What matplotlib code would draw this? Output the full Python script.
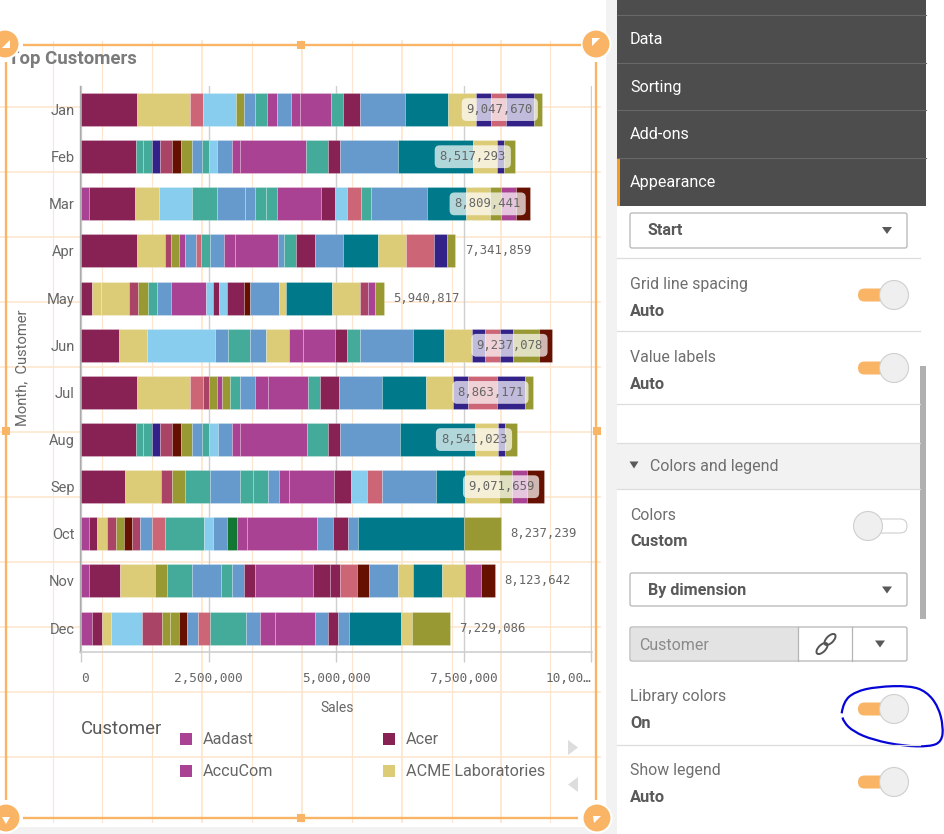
import numpy as np
import matplotlib
matplotlib.use("Agg")
import matplotlib.pyplot as plt
from matplotlib.patches import Rectangle, Circle, Ellipse, FancyBboxPatch, Polygon, PathPatch
from matplotlib.path import Path

months = ["Jan","Feb","Mar","Apr","May","Jun","Jul","Aug","Sep","Oct","Nov","Dec"]
totals = [9047670,8517293,8809441,7341859,5940817,9237078,8863171,8541023,9071659,8237239,8123642,7229086]
palette = {"A":"#aa4294","R":"#882255","Y":"#ddcc77","P":"#cc6677","L":"#88ccee","O":"#999933",
           "B":"#6699cc","T":"#44aa99","D":"#007a8a","N":"#332288","M":"#aa4466","W":"#661100","G":"#117733"}

# customer colour codes for each stacked segment, and sales in thousands
jan_c = "R Y P L O B T A B A A T R B D Y N P N O".split()
jan_v = [1104,1036,255,646,158,218,225,195,285,180,601,240,330,871,856,548,300,285,556,158]
feb_c = "R T T N M W O B T L B A A T R B D Y N O".split()
feb_v = [1074,150,165,165,225,173,218,195,143,165,278,158,1307,421,248,1134,1472,458,150,218]
mar_c = "A R Y L T B B T T A R L P T B D Y O A W".split()
mar_v = [165,901,473,631,503,548,195,203,218,864,278,240,278,195,1089,774,473,203,293,285]
apr_c = "R Y M O A B P T B A A B T R B D Y P N O".split()
apr_v = [1089,556,128,143,113,218,105,173,285,218,834,113,240,376,548,691,541,556,248,165]
may_c = "R Y Y M O T B A L R L R W B Y D Y M A O".split()
may_v = [218,165,556,180,195,165,285,676,143,120,158,330,120,556,150,901,541,165,128,180]
jun_c = "R Y L B T B Y A A R T B D Y N P N O W".split()
jun_v = [743,556,1322,255,443,308,458,263,623,248,255,1036,608,541,255,293,270,511,248]
jul_c = "R Y P M O A O T B A A T R B D Y N P N O".split()
jul_v = [1104,1036,255,120,143,113,143,210,285,255,789,240,360,849,856,526,300,571,548,158]
aug_c = "R T T N M W O B T L B A A T R B D Y N O".split()
aug_v = [1074,150,165,165,225,180,218,188,150,165,278,165,1307,413,240,1172,1472,443,150,218]
sep_c = "R Y M O T B T T B A A R L P B D Y O A W".split()
sep_v = [864,698,225,255,496,578,248,308,218,195,871,338,315,285,1059,578,661,263,293,323]
oct_c = "A R Y M O W M B P T L B G A A B R B D O".split()
oct_v = [150,173,180,173,165,158,158,240,255,751,188,270,188,210,1374,308,293,188,2080,728]
nov_c = "A R Y O T B T B R A R R P W B Y D Y A W".split()
nov_v = [165,593,698,240,488,556,225,233,218,1127,330,210,330,233,571,285,571,458,315,278]
dec_c = "A R Y L M O O W B P T B A A B R B D Y O".split()
dec_v = [225,188,165,616,398,158,173,158,203,240,713,270,285,796,240,210,210,1006,218,743]
seg_colors = [jan_c,feb_c,mar_c,apr_c,may_c,jun_c,jul_c,aug_c,sep_c,oct_c,nov_c,dec_c]
seg_values = [jan_v,feb_v,mar_v,apr_v,may_v,jun_v,jul_v,aug_v,sep_v,oct_v,nov_v,dec_v]

x_ticks = [0,2500000,5000000,7500000,10000000]
x_labels = ["0","2,500,000","5,000,000","7,500,000","10,00…"]
legend_left = ["Aadast","AccuCom"]
legend_right = ["Acer","ACME Laboratories"]

W, H = 944, 834
SANS = ["Roboto","DejaVu Sans"]
MONO = "DejaVu Sans Mono"
px = 72/100  # points per pixel
fig = plt.figure(figsize=(W/100, H/100), dpi=100, facecolor="white")

# ---------- background layer (pixel coordinates)
bg = fig.add_axes([0,0,1,1], zorder=0); bg.set_xlim(0,W); bg.set_ylim(H,0); bg.axis("off")
GRID = "#fde6cf"
for x in [52.6,102.4,152.2,251.5,351.5,451.6,550.4]:
    bg.plot([x,x],[41,822],color=GRID,lw=0.8,zorder=1)
for x in [201.7,301.7,401.7,501.3]:
    bg.plot([x,x],[41,822],color=GRID,lw=1.3,zorder=1)
for y in [106.7,171.7,236.7,301.7,366.7,431.7,497,562,627,692,757]:
    bg.plot([0,600],[y,y],color=GRID,lw=1.2,zorder=1)
bg.add_patch(Rectangle((606,0),11,H,color="#f2f2f2",lw=0,zorder=2))
bg.add_patch(Rectangle((0,827),617,7,color="#f2f2f2",lw=0,zorder=2))

# ---------- chart
ax_left, ax_right, ax_top, ax_bottom = 79.5, 591.5, 86, 651.7
ax = fig.add_axes([ax_left/W, 1-ax_bottom/H, (ax_right-ax_left)/W, (ax_bottom-ax_top)/H], zorder=1)
ax.patch.set_alpha(0)
unit = 2500000/127.5
ax.set_xlim(-1.5*unit, 10000000+0.5*unit)
ax.set_ylim(11.5,-0.5)
for i,(cs,vs) in enumerate(zip(seg_colors,seg_values)):
    vals = np.array(vs,dtype=float)
    vals *= totals[i]/vals.sum()
    left = np.concatenate([[0],np.cumsum(vals)[:-1]])
    ax.barh(i,vals,left=left,height=0.70,color=[palette[c] for c in cs],
            edgecolor=(1,1,1,0.3),linewidth=0.5,zorder=3)
    inside = totals[i] > 8400000
    off = -42.6*px if inside else 42.6*px
    kw = dict(bbox=dict(boxstyle="round,pad=0.4",fc="white",ec="none",alpha=0.7)) if inside else {}
    ax.annotate(f"{totals[i]:,}",(totals[i],i),xytext=(off,0),textcoords="offset points",
                ha="center",va="center",family=MONO,fontsize=8.8,color="#666666",zorder=5,**kw)
ax.set_yticks(range(12)); ax.set_yticklabels(months,family=SANS,fontsize=10.5,color="#666666")
ax.tick_params(axis="y",length=0,pad=3.5)
ax.set_xticks(x_ticks); ax.set_xticklabels(x_labels,family=MONO,fontsize=9.2,color="#666666")
tl = ax.get_xticklabels(); tl[0].set_ha("left"); tl[-1].set_ha("right")
ax.tick_params(axis="x",length=7.5,width=1,color="#cccccc",pad=7)
ax.grid(axis="x",color="#cfcfcf",lw=1,zorder=1); ax.set_axisbelow(True)
for s in ("top","right"): ax.spines[s].set_visible(False)
ax.spines["left"].set_color("#aaaaaa"); ax.spines["bottom"].set_color("#cccccc")
ax.spines["left"].set_linewidth(1.0); ax.spines["bottom"].set_linewidth(1.1)

# ---------- overlay
ov = fig.add_axes([0,0,1,1], zorder=2); ov.set_xlim(0,W); ov.set_ylim(H,0); ov.axis("off"); ov.patch.set_alpha(0)
def T(x,y,s,size=11.4,color="#666666",weight="normal",ha="left",rot=0,fam=SANS,z=6):
    ov.text(x,y,s,fontsize=size,color=color,fontweight=weight,ha=ha,va="center",rotation=rot,family=fam,zorder=z)
T(8,59,"Top Customers",13.4,"#7b7b7b","bold",z=0.5)
T(22,368,"Month,  Customer",10.6,"#666666",ha="center",rot=90)
T(337,707.5,"Sales",10,"#666666",ha="center")
T(81,729,"Customer",13.4,"#595959")
for (sx,tx,names,keys) in [(180,203,legend_left,["A","A"]),(383,406,legend_right,["R","Y"])]:
    for y,n,k in zip([739,771],names,keys):
        ov.add_patch(Rectangle((sx,y-6),12,12,color=palette[k],lw=0))
        T(tx,y,n,11.6)
ARW="#dddddd"
ov.add_patch(Polygon([(568,740),(578,747.5),(568,755)],color=ARW,lw=0))
ov.add_patch(Polygon([(578,777),(568,784.5),(578,792)],color=ARW,lw=0))

OR="#f9b565"
ov.plot([23,581],[44.5,44.5],color=OR,lw=1.7,solid_capstyle="butt")
ov.plot([23,578],[818,818],color=OR,lw=1.7,solid_capstyle="butt")
ov.plot([6,6],[62,800],color=OR,lw=1.7,solid_capstyle="butt")
ov.plot([596,596],[62,800],color=OR,lw=1.7,solid_capstyle="butt")
for cx,cy in [(301,44.5),(301,818),(6,431),(597,431)]:
    ov.add_patch(Rectangle((cx-4,cy-4),8,8,color=OR,lw=0))
for cx,cy,tri_pts in [(5,44,[(2,47.5),(10,47.5),(10,40)]),(596,44,[(592,38),(600,38),(592,46)]),
                  (6,818,[(2,817),(10,817),(6,824)]),(597,818,[(593,816),(601,816),(594,823)])]:
    ov.add_patch(Circle((cx,cy),14.5,fc=OR,ec="white",lw=1.5))
    ov.add_patch(Polygon(tri_pts,color="white",lw=0))

# ---------- right panel
ov.add_patch(Rectangle((617,206),309,H-206,color="white",lw=0))
ov.add_patch(Rectangle((617,0),309,206,color="#4d4d4d",lw=0))
for y in [15,63,110,158]:
    ov.plot([617,926],[y,y],color="#686868",lw=0.8)
ov.add_patch(Rectangle((617,158),3,48,color="#f59a23",lw=0))
for y,s in [(39,"Data"),(87,"Sorting"),(134,"Add-ons"),(182,"Appearance")]:
    T(630,y,s,11.6,"white")
ov.add_patch(Rectangle((617,443),303,46,color="#f2f2f2",lw=0))
for y in [258,331,404,443,489,745]:
    ov.plot([617,920],[y,y],color="#dddddd",lw=0.9)
ov.add_patch(Rectangle((920,366),6,253,color="#b0b0b0",lw=0))

def box(x0,y0,x1,y1,fc="white"):
    ov.add_patch(FancyBboxPatch((x0+2,y0+2),x1-x0-4,y1-y0-4,boxstyle="round,pad=2",fc=fc,ec="#b5b5b5",lw=0.9))
def tri(cx,cy,w=5):
    ov.add_patch(Polygon([(cx-w,cy-3.5),(cx+w,cy-3.5),(cx,cy+3.5)],color="#595959",lw=0))
def toggle_on(y):
    ov.add_patch(FancyBboxPatch((864.5,y),20,0.01,boxstyle="round,pad=6.5,rounding_size=6.5",fc=OR,ec="none"))
    ov.add_patch(Circle((894,y),14.5,fc="#efefef",ec="#cfcfcf",lw=0.8))
LBL="#6f6f6f"; BLD="#595959"
box(630,213,907,248); T(648,230.5,"Start",11.6,BLD,"bold"); tri(887,230.5)
T(630,284,"Grid line spacing",11.4,LBL); T(630,311,"Auto",11.8,BLD,"bold"); toggle_on(295)
T(630,357,"Value labels",11.4,LBL); T(630,384,"Auto",11.8,BLD,"bold"); toggle_on(368)
tri(634,465,4.5); T(650,466.5,"Colors and legend",11.5,LBL)
T(630,515,"Colors",11.4,LBL); T(630,542,"Custom",11.8,BLD,"bold")
ov.add_patch(FancyBboxPatch((864,526),36,0.01,boxstyle="round,pad=7,rounding_size=7",fc="white",ec="#cfcfcf",lw=0.8))
ov.add_patch(Circle((868,526),14.5,fc="#efefef",ec="#cfcfcf",lw=0.8))
box(630,573,907,606); T(648,590,"By dimension",11.6,BLD,"bold"); tri(887,590)
box(630,627,907,661)
ov.add_patch(Rectangle((631,628),167,32,color="#e3e3e3",lw=0))
ov.plot([798,798],[627,661],color="#b5b5b5",lw=0.9); ov.plot([852,852],[627,661],color="#b5b5b5",lw=0.9)
T(639,645,"Customer",11.5,"#8a8a8a"); tri(880,644)
ov.add_patch(Ellipse((822,648.5),14,7,angle=-45,fc="none",ec="#555555",lw=1.4))
ov.add_patch(Ellipse((830,639.5),14,7,angle=-45,fc="none",ec="#555555",lw=1.4))
T(630,697,"Library colors",11.4,LBL); T(630,723.5,"On",11.8,BLD,"bold"); toggle_on(709)
T(630,770,"Show legend",11.4,LBL); T(630,797.5,"Auto",11.8,BLD,"bold"); toggle_on(782)
T(630,842,"Legend position",11.4,LBL)

# hand-drawn blue loop
z = [(695,880),(700,845),(735,815),(800,800),(900,797),(950,815),(985,860),(1000,920),(995,965),(960,980),(880,978),(790,960),(730,935),(700,905),(695,880)]
pts = [(610+a/3,420+b/3) for a,b in z]
verts=[pts[0]]; codes=[Path.MOVETO]
for i in range(1,len(pts)-1):
    mid=((pts[i][0]+pts[i+1][0])/2,(pts[i][1]+pts[i+1][1])/2)
    verts+= [pts[i],mid]; codes+=[Path.CURVE3,Path.CURVE3]
ov.add_patch(PathPatch(Path(verts,codes),fc="none",ec="#0505d8",lw=1.6))

fig.savefig("out.png",dpi=100)
